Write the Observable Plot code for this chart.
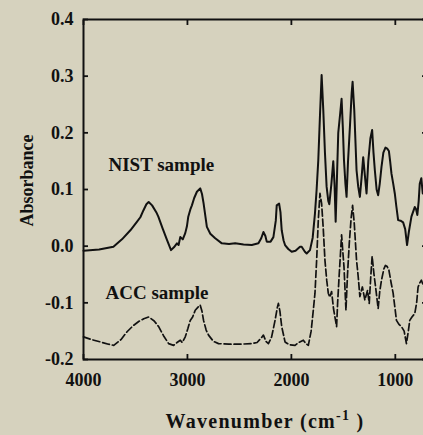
<!DOCTYPE html>
<html><head><meta charset="utf-8">
<script src="https://cdn.jsdelivr.net/npm/d3@7"></script>
<script src="https://cdn.jsdelivr.net/npm/@observablehq/plot@0.6"></script>
<style>
html,body{margin:0;padding:0;background:#d6d2be;overflow:hidden;}
</style></head><body><div id="chart"></div>
<script>
const nistWavenumber = [4000,3850,3712,3630,3549,3490,3453,3424,3395,3373,3340,3300,3280,3240,3197,3158,3130,3101,3085,3069,3045,3021,3005,2992,2970,2957,2935,2909,2877,2860,2845,2813,2780,2733,2669,2600,2541,2460,2381,2317,2290,2269,2250,2237,2200,2173,2150,2141,2118,2105,2093,2075,2061,2030,1997,1960,1917,1901,1870,1853,1821,1795,1773,1757,1741,1725,1709,1693,1677,1661,1645,1635,1615,1597,1585,1574,1560,1549,1530,1517,1505,1494,1480,1469,1455,1437,1420,1411,1395,1373,1357,1341,1325,1309,1293,1277,1260,1240,1223,1210,1197,1180,1165,1150,1133,1115,1095,1078,1062,1050,1037,1020,1005,990,973,950,925,905,887,870,845,830,813,800,788,775,765,750,736,715,700];
const nistAbsorbance = [-0.008,-0.006,-0.001,0.012,0.028,0.042,0.051,0.063,0.074,0.078,0.072,0.060,0.052,0.032,0.011,-0.007,-0.002,0.005,0.002,0.016,0.012,0.023,0.035,0.052,0.066,0.072,0.085,0.096,0.102,0.092,0.076,0.034,0.022,0.014,0.005,0.004,0.005,0.003,0.002,0.005,0.014,0.025,0.018,0.008,0.008,0.016,0.045,0.072,0.075,0.060,0.028,0.010,0.002,-0.005,-0.010,-0.008,-0.001,-0.001,-0.010,-0.013,-0.007,0.015,0.058,0.100,0.152,0.230,0.302,0.240,0.165,0.105,0.080,0.074,0.110,0.150,0.110,0.043,0.130,0.200,0.235,0.260,0.210,0.152,0.110,0.087,0.150,0.210,0.270,0.290,0.240,0.134,0.105,0.087,0.120,0.157,0.125,0.093,0.150,0.190,0.205,0.165,0.134,0.100,0.090,0.110,0.140,0.165,0.174,0.172,0.168,0.150,0.128,0.110,0.093,0.070,0.046,0.045,0.042,0.030,0.002,0.025,0.052,0.060,0.069,0.065,0.055,0.080,0.110,0.120,0.093,0.100,0.090];

const accWavenumber = [4000,3920,3837,3760,3709,3640,3581,3520,3469,3420,3373,3320,3277,3230,3181,3133,3100,3069,3050,3021,2995,2973,2950,2925,2900,2877,2860,2845,2820,2797,2750,2701,2600,2500,2381,2330,2290,2269,2245,2221,2190,2157,2135,2125,2110,2093,2061,2020,1965,1930,1885,1860,1837,1810,1789,1773,1757,1741,1725,1709,1693,1677,1660,1645,1630,1613,1595,1565,1555,1541,1517,1505,1494,1475,1460,1443,1425,1411,1395,1373,1357,1341,1317,1293,1267,1251,1235,1223,1205,1190,1165,1150,1133,1110,1095,1078,1062,1040,1021,989,965,941,915,893,875,861,840,813,795,781,765,749,730,700];
const accAbsorbance = [-0.160,-0.165,-0.169,-0.173,-0.175,-0.165,-0.151,-0.140,-0.133,-0.128,-0.125,-0.132,-0.142,-0.158,-0.172,-0.175,-0.170,-0.166,-0.170,-0.160,-0.145,-0.131,-0.125,-0.113,-0.108,-0.104,-0.115,-0.131,-0.148,-0.157,-0.168,-0.172,-0.173,-0.173,-0.172,-0.170,-0.162,-0.157,-0.168,-0.172,-0.160,-0.131,-0.108,-0.101,-0.115,-0.142,-0.169,-0.174,-0.175,-0.170,-0.166,-0.172,-0.175,-0.150,-0.113,-0.083,-0.025,0.046,0.093,0.075,0.030,-0.025,-0.060,-0.083,-0.090,-0.080,-0.110,-0.142,-0.100,-0.054,0.020,-0.010,-0.036,-0.113,-0.050,0.005,0.050,0.072,0.040,-0.025,-0.054,-0.089,-0.072,-0.095,-0.078,-0.101,-0.050,-0.018,-0.050,-0.072,-0.110,-0.080,-0.060,-0.040,-0.034,-0.036,-0.042,-0.065,-0.083,-0.131,-0.138,-0.142,-0.150,-0.172,-0.150,-0.131,-0.125,-0.119,-0.100,-0.072,-0.065,-0.060,-0.070,-0.080];

const xTicks = [4000, 3000, 2000, 1000];
const xTickLabels = ["4000", "3000", "2000", "1000"];
const yTicks = [-0.2, -0.1, 0, 0.1, 0.2, 0.3, 0.4];
const yTickLabels = ["-0.2", "-0.1", "0.0", "0.1", "0.2", "0.3", "0.4"];
const seriesLabels = ["NIST sample", "ACC sample"];
const seriesLabelWavenumber = [3760, 3788];
const seriesLabelAbsorbance = [0.143, -0.083];
const yTitle = "Absorbance";

const nist = nistWavenumber.map((w, i) => ({w, a: nistAbsorbance[i]}));
const acc = accWavenumber.map((w, i) => ({w, a: accAbsorbance[i]}));
const ink = "#111";

const chart = Plot.plot({
  width: 427, height: 435,
  marginLeft: 83, marginRight: 1, marginTop: 19, marginBottom: 76,
  style: {background: "#d6d2be", maxWidth: "none", fontFamily: "'Liberation Serif','Times New Roman',serif", fontWeight: "bold", color: ink},
  x: {domain: [4000, 700]},
  y: {domain: [-0.2, 0.4]},
  marks: [
    Plot.axisX({ticks: xTicks, tickFormat: d => xTickLabels[xTicks.indexOf(d)], tickSize: -5, tickPadding: 19, strokeWidth: 1.8, fontSize: 18, label: null}),
    Plot.axisX({anchor: "top", ticks: xTicks, tickFormat: () => "", tickSize: -5, strokeWidth: 1.8, label: null}),
    Plot.axisY({ticks: yTicks, tickFormat: d => yTickLabels[yTicks.indexOf(d)], tickSize: -5, tickPadding: 15, strokeWidth: 1.8, fontSize: 18, label: null}),
    Plot.axisY({anchor: "right", ticks: yTicks, tickFormat: () => "", tickSize: -5, strokeWidth: 1.8, label: null}),
    Plot.frame({stroke: ink, strokeWidth: 2}),
    Plot.line(nist, {x: "w", y: "a", stroke: ink, strokeWidth: 2}),
    Plot.line(acc, {x: "w", y: "a", stroke: ink, strokeWidth: 1.7, strokeDasharray: "7,3"}),
    Plot.text(seriesLabels, {x: (d, i) => seriesLabelWavenumber[i], y: (d, i) => seriesLabelAbsorbance[i], text: d => d, textAnchor: "start", fontSize: 19, fill: ink}),
    Plot.text([yTitle], {x: () => 4000, y: () => 0.116, text: d => d, dx: -56, rotate: -90, fontSize: 18, fill: ink, letterSpacing: "1px"})
  ]
});
document.getElementById("chart").append(chart);

const svg = d3.select(chart);
const t = svg.append("text").attr("x", 265).attr("y", 428).attr("text-anchor", "middle")
  .attr("font-size", 20).attr("font-weight", "bold").attr("fill", ink).attr("letter-spacing", "1.3px");
t.append("tspan").text("Wavenumber (cm");
t.append("tspan").attr("dy", -8).attr("font-size", 14).text("-1");
t.append("tspan").attr("dy", 8).text(" )");
</script>
</body></html>
